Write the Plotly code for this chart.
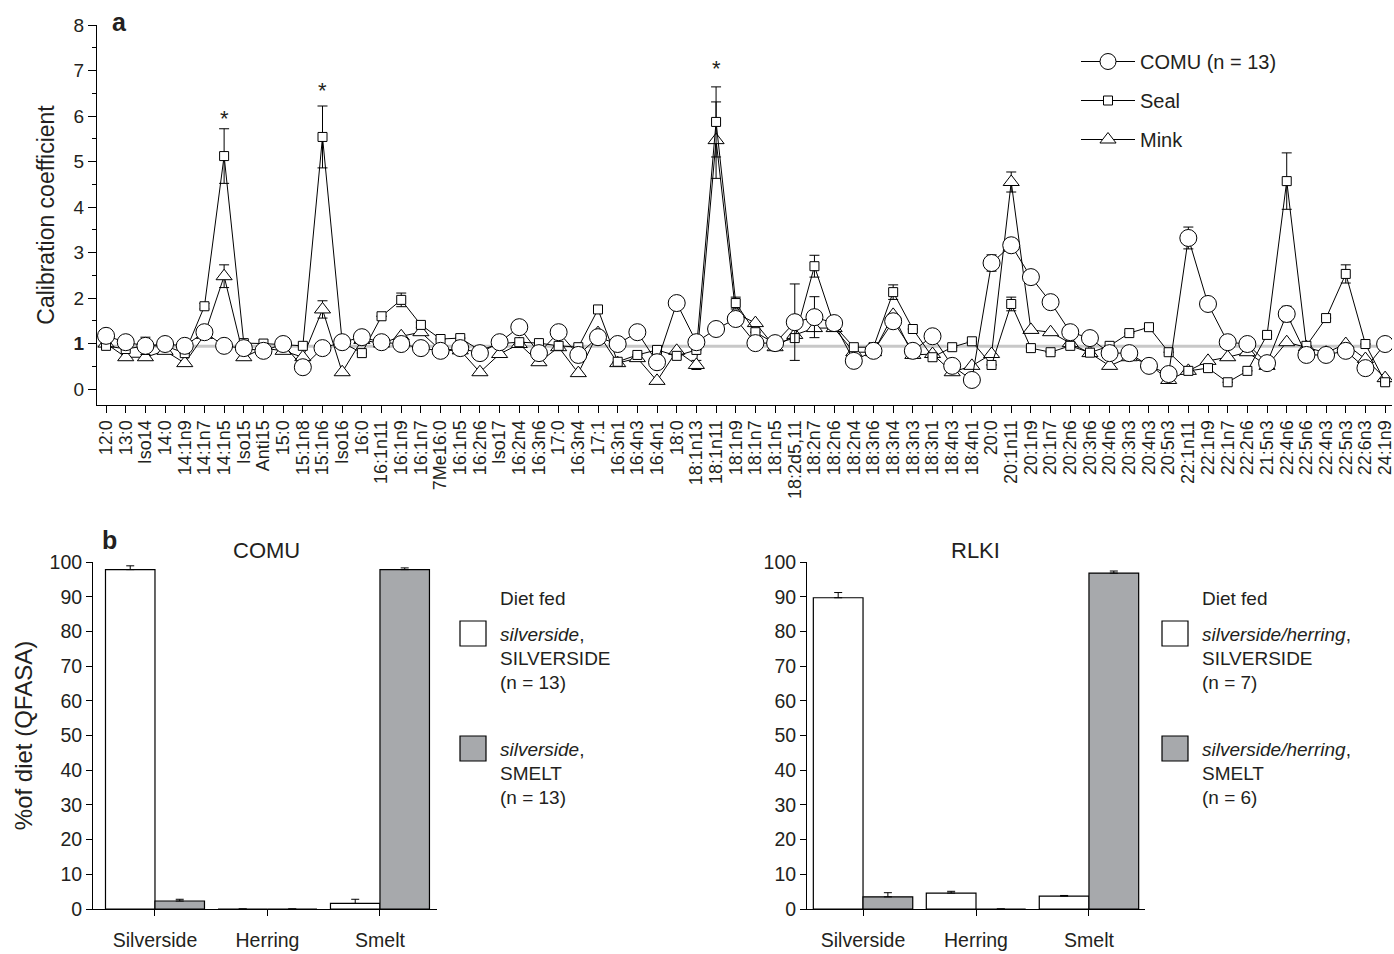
import plotly.graph_objects as go

# ---------------- data: panel a ----------------
fatty_acids = ["12:0", "13:0", "Iso14", "14:0", "14:1n9", "14:1n7", "14:1n5", "Iso15", "Anti15", "15:0",
               "15:1n8", "15:1n6", "Iso16", "16:0", "16:1n11", "16:1n9", "16:1n7", "7Me16:0", "16:1n5", "16:2n6",
               "Iso17", "16:2n4", "16:3n6", "17:0", "16:3n4", "17:1", "16:3n1", "16:4n3", "16:4n1", "18:0",
               "18:1n13", "18:1n11", "18:1n9", "18:1n7", "18:1n5", "18:2d5,11", "18:2n7", "18:2n6", "18:2n4", "18:3n6",
               "18:3n4", "18:3n3", "18:3n1", "18:4n3", "18:4n1", "20:0", "20:1n11", "20:1n9", "20:1n7", "20:2n6",
               "20:3n6", "20:4n6", "20:3n3", "20:4n3", "20:5n3", "22:1n11", "22:1n9", "22:1n7", "22:2n6", "21:5n3",
               "22:4n6", "22:5n6", "22:4n3", "22:5n3", "22:6n3", "24:1n9"]

comu = [1.17, 1.03, 0.95, 0.99, 0.95, 1.25, 0.95, 0.90, 0.84, 0.99,
        0.48, 0.90, 1.03, 1.14, 1.03, 0.99, 0.90, 0.84, 0.90, 0.79,
        1.03, 1.36, 0.79, 1.25, 0.75, 1.14, 0.99, 1.25, 0.59, 1.89,
        1.03, 1.32, 1.54, 1.01, 1.01, 1.47, 1.58, 1.45, 0.62, 0.84,
        1.49, 0.84, 1.16, 0.51, 0.20, 2.77, 3.16, 2.46, 1.91, 1.25,
        1.12, 0.79, 0.79, 0.51, 0.33, 3.32, 1.87, 1.03, 0.99, 0.57,
        1.65, 0.75, 0.75, 0.84, 0.46, 0.99]
comu_err = [0, 0, 0.19, 0, 0, 0, 0, 0, 0, 0,
            0, 0, 0, 0, 0, 0, 0, 0, 0, 0,
            0, 0, 0, 0, 0, 0, 0, 0, 0, 0,
            0, 0, 0, 0, 0, 0.84, 0.45, 0, 0, 0,
            0, 0, 0, 0, 0, 0.18, 0.12, 0, 0, 0,
            0, 0, 0, 0, 0, 0.24, 0, 0, 0, 0,
            0.17, 0, 0, 0, 0, 0]

seal = [0.95, 0.88, 0.95, 0.95, 0.79, 1.82, 5.12, 1.01, 1.00, 0.97,
        0.95, 5.54, 1.03, 0.79, 1.60, 1.96, 1.41, 1.10, 1.12, 0.85,
        1.00, 1.03, 1.01, 0.95, 0.92, 1.75, 0.60, 0.75, 0.86, 0.73,
        0.86, 5.87, 1.89, 1.25, 1.00, 1.12, 2.70, 1.40, 0.92, 0.92,
        2.13, 1.32, 0.70, 0.92, 1.05, 0.53, 1.87, 0.90, 0.81, 0.95,
        0.80, 0.95, 1.23, 1.36, 0.81, 0.40, 0.46, 0.15, 0.40, 1.19,
        4.57, 0.95, 1.56, 2.53, 0.99, 0.15]
seal_err = [0, 0, 0, 0, 0, 0.06, 0.60, 0, 0, 0,
            0, 0.68, 0, 0, 0, 0.15, 0.06, 0, 0, 0,
            0, 0, 0, 0, 0, 0.05, 0, 0, 0, 0,
            0, 0.77, 0.13, 0, 0, 0, 0.24, 0, 0, 0,
            0.16, 0, 0, 0, 0, 0, 0.15, 0, 0, 0,
            0, 0, 0, 0, 0, 0, 0, 0, 0, 0,
            0.62, 0, 0, 0.20, 0, 0]

mink = [1.00, 0.70, 0.70, 0.84, 0.57, 1.19, 2.48, 0.70, 0.90, 0.84,
        0.70, 1.75, 0.37, 1.08, 1.00, 1.16, 1.25, 0.85, 0.85, 0.37,
        0.77, 0.99, 0.59, 0.92, 0.35, 1.23, 0.57, 0.68, 0.18, 0.84,
        0.53, 5.47, 1.67, 1.45, 0.92, 1.19, 1.34, 1.34, 0.81, 0.81,
        1.63, 0.75, 0.77, 0.37, 0.51, 0.77, 4.55, 1.30, 1.25, 1.01,
        0.79, 0.51, 0.70, 0.55, 0.20, 0.40, 0.62, 0.70, 0.81, 0.51,
        1.03, 0.92, 0.80, 0.99, 0.66, 0.24]
mink_err = [0, 0, 0, 0, 0, 0, 0.25, 0, 0, 0,
            0, 0.19, 0, 0, 0, 0, 0, 0, 0, 0,
            0, 0, 0, 0, 0, 0, 0, 0, 0, 0,
            0.10, 0.84, 0, 0, 0, 0, 0, 0, 0, 0,
            0, 0, 0, 0, 0, 0, 0.22, 0, 0, 0,
            0, 0, 0, 0, 0, 0, 0, 0, 0, 0,
            0, 0, 0, 0, 0, 0]

star_acids = ["14:1n5", "15:1n6", "18:1n11"]
star_y = [5.95, 6.55, 7.05]
ref_level = 0.94

y_ticks_a = [0, 1, 2, 3, 4, 5, 6, 7, 8]
y_ticktext_a = ["0", "<b>1</b>", "2", "3", "4", "5", "6", "7", "8"]

# ---------------- data: panel b ----------------
prey = ["Silverside", "Herring", "Smelt"]
comu_fed_silv = [97.8, 0.0, 1.6]
comu_fed_silv_err = [1.1, 0.0, 1.2]
comu_fed_smelt = [2.3, 0.0, 97.8]
comu_fed_smelt_err = [0.5, 0.0, 0.5]
rlki_fed_silv = [89.7, 4.6, 3.7]
rlki_fed_silv_err = [1.5, 0.5, 0.2]
rlki_fed_smelt = [3.5, 0.0, 96.8]
rlki_fed_smelt_err = [1.2, 0.0, 0.6]

FONT = "Liberation Sans, Arial, Helvetica, sans-serif"
TXT = "#231f20"
W, H = 1394, 954
GREY = "#a7a9ac"

def px_x(p):
    return p / W

def px_y(p):
    return 1 - p / H

fig = go.Figure()

# panel a traces (mink first so COMU circles are on top)
fig.add_trace(go.Scatter(
    x=fatty_acids, y=mink, name="Mink", mode="lines+markers", legendrank=3, legendgroup="m",
    line=dict(color="black", width=1),
    marker=dict(symbol="triangle-up", size=14, color="white", line=dict(color="black", width=1)),
    error_y=dict(type="data", array=mink_err, color="black", thickness=1, width=5),
    xaxis="x", yaxis="y"))
fig.add_trace(go.Scatter(
    x=fatty_acids, y=seal, name="Seal", mode="lines+markers", legendrank=2, legendgroup="s",
    line=dict(color="black", width=1),
    marker=dict(symbol="square", size=9, color="white", line=dict(color="black", width=1)),
    error_y=dict(type="data", array=seal_err, color="black", thickness=1, width=5),
    xaxis="x", yaxis="y"))
fig.add_trace(go.Scatter(
    x=fatty_acids, y=comu, name="COMU (n = 13)", mode="lines+markers", legendrank=1, legendgroup="c",
    line=dict(color="black", width=1),
    marker=dict(symbol="circle", size=17, color="white", line=dict(color="black", width=1)),
    error_y=dict(type="data", array=comu_err, color="black", thickness=1, width=5),
    xaxis="x", yaxis="y"))

# panel b bars
def bar(x, y, err, fill, xa, ya):
    return go.Bar(x=x, y=y, marker=dict(color=fill, line=dict(color="black", width=1.2)),
                  error_y=dict(type="data", array=err, arrayminus=[0] * len(err), symmetric=False,
                               color="black", thickness=1, width=4),
                  showlegend=False, xaxis=xa, yaxis=ya)

fig.add_trace(bar(prey, comu_fed_silv, comu_fed_silv_err, "white", "x2", "y2"))
fig.add_trace(bar(prey, comu_fed_smelt, comu_fed_smelt_err, GREY, "x2", "y2"))
fig.add_trace(bar(prey, rlki_fed_silv, rlki_fed_silv_err, "white", "x3", "y3"))
fig.add_trace(bar(prey, rlki_fed_smelt, rlki_fed_smelt_err, GREY, "x3", "y3"))

axis_common = dict(showgrid=False, zeroline=False, showline=True, linecolor="black", linewidth=1,
                   ticks="outside", tickcolor="black", tickwidth=1, automargin=False)

fig.update_layout(
    width=W, height=H, autosize=False,
    margin=dict(l=0, r=0, t=0, b=0, pad=0),
    paper_bgcolor="white", plot_bgcolor="white",
    font=dict(family=FONT, color=TXT, size=18),
    barmode="group", bargap=0.12, bargroupgap=0,
    showlegend=True,
    legend=dict(x=px_x(1076), y=px_y(42), xanchor="left", yanchor="top",
                font=dict(size=20, family=FONT, color=TXT), bgcolor="rgba(0,0,0,0)",
                tracegroupgap=10, itemwidth=54, traceorder="grouped"),
    xaxis=dict(domain=[px_x(97), px_x(1392)], anchor="y", type="category",
               range=[-0.46, 65.35], tickmode="linear", tick0=0, dtick=1,
               tickangle=-90, ticklen=7,
               tickfont=dict(size=18), **axis_common),
    yaxis=dict(domain=[px_y(405), px_y(25)], anchor="x", range=[-0.35, 8],
               tickvals=y_ticks_a, ticktext=y_ticktext_a, ticklen=8, tickfont=dict(size=19),
               minor=dict(dtick=0.5, tick0=0, ticks="outside", ticklen=4, tickcolor="black"),
               title=dict(text="Calibration coefficient", font=dict(size=23), standoff=12),
               **axis_common),
    xaxis2=dict(domain=[px_x(93), px_x(437)], anchor="y2", type="category",
                range=[-0.551, 2.507], ticklen=6, tickfont=dict(size=19.5), ticklabelstandoff=8,
                **axis_common),
    yaxis2=dict(domain=[px_y(909), px_y(562)], anchor="x2", range=[0, 100], dtick=10,
                ticklen=6, tickfont=dict(size=19.5),
                title=dict(text="%of diet (QFASA)", font=dict(size=24), standoff=10),
                **axis_common),
    xaxis3=dict(domain=[px_x(807), px_x(1145)], anchor="y3", type="category",
                range=[-0.496, 2.496], ticklen=6, tickfont=dict(size=19.5), ticklabelstandoff=8,
                **axis_common),
    yaxis3=dict(domain=[px_y(909), px_y(562)], anchor="x3", range=[0, 100], dtick=10,
                ticklen=6, tickfont=dict(size=19.5), **axis_common),
)

# reference line at ~1 in panel a
fig.add_shape(type="line", xref="x domain", yref="y", x0=0, x1=1, y0=ref_level, y1=ref_level,
              line=dict(color="#c8c8c8", width=3), layer="below")

# significance stars
for fa, sy in zip(star_acids, star_y):
    fig.add_annotation(x=fa, y=sy, xref="x", yref="y", text="*", showarrow=False,
                       font=dict(size=22, family=FONT, color=TXT))

def txt(x, y, t, size=19, xanchor="left", bold=False):
    if bold:
        t = "<b>" + t + "</b>"
    fig.add_annotation(x=px_x(x), y=px_y(y), xref="paper", yref="paper", text=t, showarrow=False,
                       xanchor=xanchor, yanchor="middle", font=dict(size=size, family=FONT, color=TXT))

txt(110, 22, "a", size=25, bold=True)
txt(100, 540, "b", size=25, bold=True)
txt(266, 550, "COMU", size=22, xanchor="center")
txt(975, 550, "RLKI", size=22, xanchor="center")

# bar-panel legends
def bar_legend(x0, prey_text, n1, n2):
    txt(x0 + 38, 598, "Diet fed")
    fig.add_shape(type="rect", xref="paper", yref="paper",
                  x0=px_x(x0), x1=px_x(x0 + 26), y0=px_y(646), y1=px_y(621),
                  fillcolor="white", line=dict(color="black", width=1.2))
    fig.add_shape(type="rect", xref="paper", yref="paper",
                  x0=px_x(x0), x1=px_x(x0 + 26), y0=px_y(761), y1=px_y(736),
                  fillcolor=GREY, line=dict(color="black", width=1.2))
    txt(x0 + 38, 634, "<i>" + prey_text + "</i>,")
    txt(x0 + 38, 658, "SILVERSIDE")
    txt(x0 + 38, 682, "(n = %d)" % n1)
    txt(x0 + 38, 749, "<i>" + prey_text + "</i>,")
    txt(x0 + 38, 773, "SMELT")
    txt(x0 + 38, 797, "(n = %d)" % n2)

bar_legend(460, "silverside", 13, 13)
bar_legend(1162, "silverside/herring", 7, 6)

fig.write_html("out.html", config={"displayModeBar": False})

with open("out.html", "r", encoding="utf-8") as f:
    html = f.read()
html = html.replace("<head>", "<head><style>html,body{margin:0;padding:0;overflow:hidden;}</style>", 1)
with open("out.html", "w", encoding="utf-8") as f:
    f.write(html)
